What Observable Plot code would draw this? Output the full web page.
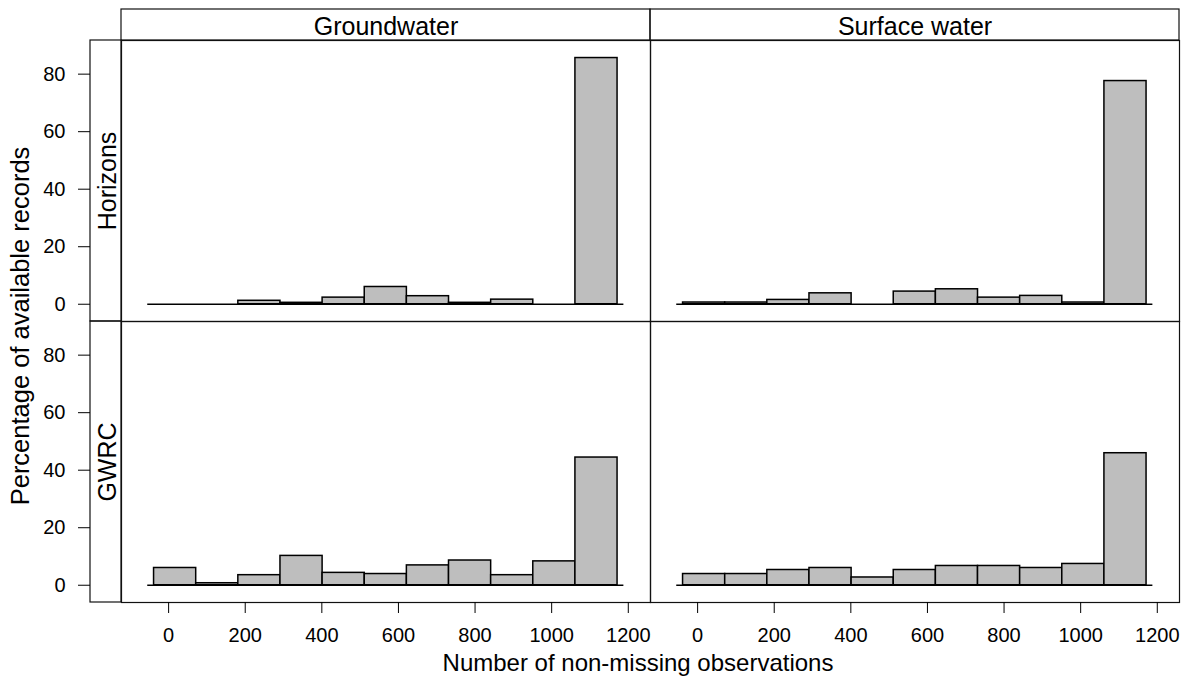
<!DOCTYPE html>
<html>
<head>
<meta charset="utf-8">
<script src="https://cdn.jsdelivr.net/npm/d3@7"></script>
<script src="https://cdn.jsdelivr.net/npm/@observablehq/plot@0.6"></script>
<style>
  html, body { margin: 0; padding: 0; background: #fff; }
  #chart { width: 1194px; height: 682px; }
</style>
</head>
<body>
<div id="chart"></div>
<script>
// ---- data ----
const sources = ["Groundwater", "Surface water"];
const councils = ["Horizons", "GWRC"];
const binEdges = [-38, 72, 182, 292, 402, 512, 622, 732, 842, 952, 1062, 1172];
const horizonsGroundwater = [0, 0, 1.2, 0.5, 2.3, 6.0, 2.8, 0.5, 1.6, 0, 85.6];
const horizonsSurfaceWater = [0.6, 0.6, 1.5, 3.8, 0, 4.4, 5.2, 2.3, 2.9, 0.6, 77.6];
const gwrcGroundwater = [6.0, 0.7, 3.5, 10.2, 4.3, 3.9, 6.9, 8.6, 3.5, 8.3, 44.4];
const gwrcSurfaceWater = [3.9, 3.9, 5.3, 6.0, 2.7, 5.3, 6.7, 6.7, 6.0, 7.4, 45.9];
const xTicks = [0, 200, 400, 600, 800, 1000, 1200];
const yTicks = [0, 20, 40, 60, 80];
const xTitle = "Number of non-missing observations";
const yTitle = "Percentage of available records";

// ---- build table ----
const series = [
  {council: "Horizons", source: "Groundwater", values: horizonsGroundwater},
  {council: "Horizons", source: "Surface water", values: horizonsSurfaceWater},
  {council: "GWRC", source: "Groundwater", values: gwrcGroundwater},
  {council: "GWRC", source: "Surface water", values: gwrcSurfaceWater}
];
const bars = series.flatMap(s => s.values.map((v, i) => ({
  fx: s.source, fy: s.council, x1: binEdges[i], x2: binEdges[i + 1], y: v
}))).filter(d => d.y > 0);
const topStrips = sources.map(s => ({fx: s, fy: councils[0]}));
const leftStrips = councils.map(c => ({fx: sources[0], fy: c}));

// ---- layout ----
const W = 1194, H = 682;
const mL = 121, mR = 15, mT = 40, mB = 80;
const stripH = 31, stripW = 31;
const panelW = (W - mL - mR) / 2;
const panelH = (H - mT - mB) / 2;
const pad = (binEdges[1] - binEdges[0]) * 0.15;

const chart = Plot.plot({
  width: W,
  height: H,
  marginLeft: mL,
  marginRight: mR,
  marginTop: mT,
  marginBottom: mB,
  style: {fontFamily: "'Liberation Sans', Arial, sans-serif", fontSize: "20px", color: "black", background: "white"},
  x: {domain: [-123, 1258]},
  y: {domain: [-6, 91.7]},
  fx: {domain: sources, padding: 0, axis: null},
  fy: {domain: councils, padding: 0, axis: null},
  marks: [
    Plot.frame({stroke: "#111", strokeWidth: 1.2}),
    Plot.rect(topStrips, {fx: "fx", fy: "fy", insetTop: -stripH, insetBottom: panelH, fill: "none", stroke: "#111", strokeWidth: 1.2}),
    Plot.rect(leftStrips, {fx: "fx", fy: "fy", insetLeft: -stripW, insetRight: panelW, fill: "none", stroke: "#111", strokeWidth: 1.2}),
    Plot.text(topStrips, {fx: "fx", fy: "fy", text: "fx", frameAnchor: "top", lineAnchor: "middle", textAnchor: "middle", dy: -14, fontSize: 25}),
    Plot.text(leftStrips, {fx: "fx", fy: "fy", text: "fy", frameAnchor: "left", lineAnchor: "middle", textAnchor: "middle", rotate: -90, dx: -14, fontSize: 25}),
    Plot.ruleY([0], {x1: binEdges[0] - pad, x2: binEdges[binEdges.length - 1] + pad, stroke: "black", strokeWidth: 1.5}),
    Plot.rectY(bars, {fx: "fx", fy: "fy", x1: "x1", x2: "x2", y: "y", fill: "#bebebe", stroke: "black", strokeWidth: 1.5}),
    Plot.axisX({ticks: xTicks, tickSize: 11, tickPadding: 14, label: null, tickFormat: d => String(d)}),
    Plot.axisY({ticks: yTicks, tickSize: 12, tickPadding: 13, dx: -stripW, label: null})
  ]
});

document.getElementById("chart").appendChild(chart);

const svg = d3.select(chart);
svg.append("text")
  .attr("x", 638).attr("y", 671)
  .attr("text-anchor", "middle")
  .attr("font-size", 24)
  .attr("fill", "black")
  .text(xTitle);
svg.append("text")
  .attr("transform", "translate(21,326) rotate(-90)")
  .attr("text-anchor", "middle")
  .attr("dy", "0.32em")
  .attr("font-size", 25.5)
  .attr("fill", "black")
  .text(yTitle);
</script>
</body>
</html>
